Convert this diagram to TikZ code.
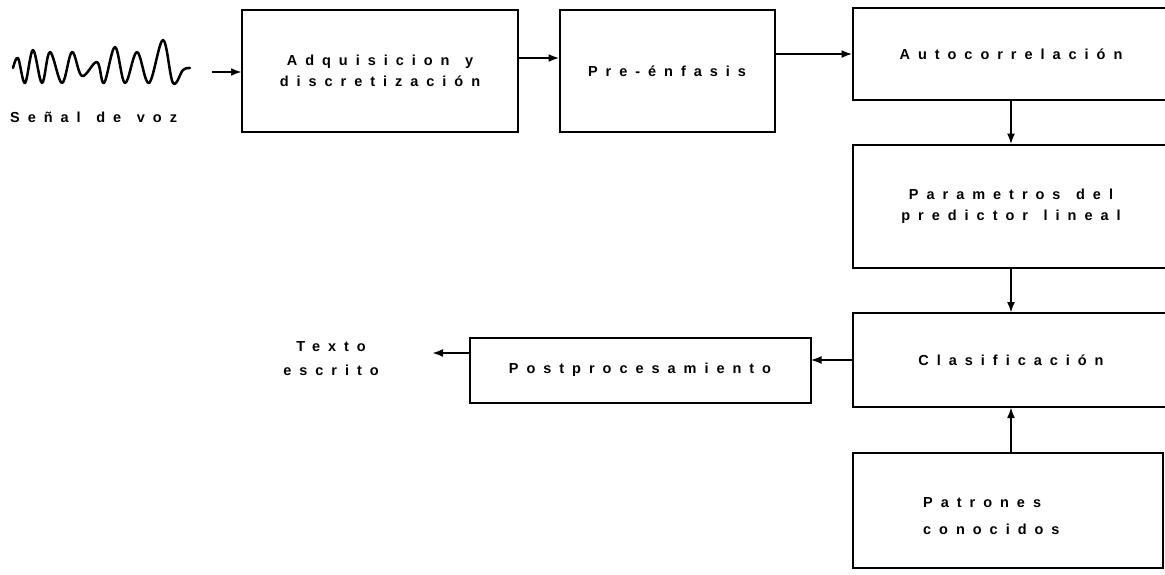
\documentclass[tikz,border=0pt]{standalone}
\usepackage{fontspec}
\newfontfamily\spfont[LetterSpace=55,WordSpace=1.3]{Liberation Sans}
\usetikzlibrary{arrows.meta}
\begin{document}
\begin{tikzpicture}[x=1pt,y=-1pt,
  box/.style={draw,line width=2pt,inner sep=0pt,outer sep=0pt,align=center,font=\spfont\bfseries\fontsize{14.5}{21}\selectfont},
  lbl/.style={inner sep=0pt,align=center,font=\spfont\bfseries\fontsize{14.5}{24}\selectfont},
  arr/.style={line width=2pt,-{Latex[length=11pt,width=8pt]}}]
\useasboundingbox (0,0) rectangle (1165,574);
\node[box,minimum width=276pt,minimum height=122pt] (b1) at (380,71) {Adquisicion y\\discretización};
\node[box,minimum width=215pt,minimum height=122pt] (b2) at (667,71) {Pre-énfasis};
\node[box,minimum width=317pt,minimum height=92pt] (b3) at (1011,54) {Autocorrelación};
\node[box,minimum width=317pt,minimum height=123pt] (b4) at (1011,206) {Parametros del\\predictor lineal};
\node[box,minimum width=317pt,minimum height=94pt] (b5) at (1011,360) {Clasificación};
\node[box,minimum width=310pt,minimum height=115pt] (b6) at (1008,510) {};
\node[lbl,align=left,font=\spfont\bfseries\fontsize{14.5}{27}\selectfont,anchor=west] (pat) at (923,516) {Patrones\\conocidos};
\node[box,minimum width=341pt,minimum height=65pt] (b7) at (640,370) {Postprocesamiento};
\node[lbl] (txt) at (331,359) {Texto\\escrito};
\node[lbl,anchor=west] (voz) at (10,117) {Señal de voz};
\coordinate (wend) at (212,72);
\coordinate (tend) at (432,353);
% waveform
\draw[line width=2.5pt,line cap=round,line join=round] plot[smooth,tension=0.6] coordinates {
 (13,68) (18,58) (25,83) (33,50) (42,83) (50,52) (62,83) (72,52) (82,76) (97,62) (104,83) (115,47) (125,83) (137,52) (149,83) (163,40) (173,83) (183,70) (190,68)};
\draw[arr] (wend) -- (wend -| b1.west);
\draw[arr] ([yshift=13pt]b1.east) -- ([yshift=13pt]b1.east -| b2.west);
\draw[arr] (b2.east |- b3.west) -- (b3.west);
\draw[arr] (b3.south) -- (b4.north);
\draw[arr] (b4.south) -- (b5.north);
\draw[arr] (b6.north -| b5.south) -- (b5.south);
\draw[arr] (b5.west) -- (b5.west -| b7.east);
\draw[arr] ([yshift=17pt]b7.west) -- (tend);
\end{tikzpicture}
\end{document}
